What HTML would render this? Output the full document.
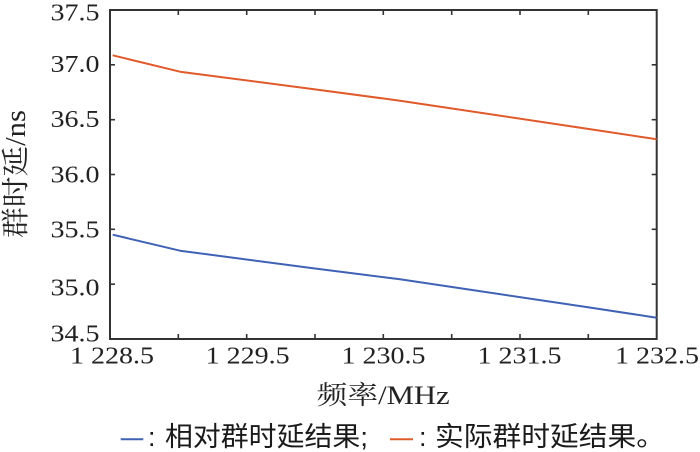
<!DOCTYPE html>
<html>
<head>
<meta charset="utf-8">
<style>
html,body{margin:0;padding:0;background:#fff;}
svg{display:block;}
.num{font-family:"Liberation Serif",serif;font-size:24px;fill:#222;}
.ser{font-family:"Liberation Serif","Noto Serif CJK SC",serif;fill:#222;}
.leg{font-family:"Liberation Sans","Noto Sans CJK SC",sans-serif;fill:#1a1a1a;font-size:27px;}
</style>
</head>
<body>
<svg width="700" height="452" viewBox="0 0 700 452" xmlns="http://www.w3.org/2000/svg">
  <rect width="700" height="452" fill="#fff"/>
  <!-- frame -->
  <rect x="110" y="10" width="546.7" height="329" fill="none" stroke="#333" stroke-width="2"/>
  <g stroke="#333" stroke-width="1.6">
    <line x1="178.3" y1="339" x2="178.3" y2="334"/>
    <line x1="246.7" y1="339" x2="246.7" y2="334"/>
    <line x1="315" y1="339" x2="315" y2="334"/>
    <line x1="383.3" y1="339" x2="383.3" y2="334"/>
    <line x1="451.7" y1="339" x2="451.7" y2="334"/>
    <line x1="520" y1="339" x2="520" y2="334"/>
    <line x1="588.3" y1="339" x2="588.3" y2="334"/>
    <line x1="178.3" y1="10" x2="178.3" y2="15"/>
    <line x1="246.7" y1="10" x2="246.7" y2="15"/>
    <line x1="315" y1="10" x2="315" y2="15"/>
    <line x1="383.3" y1="10" x2="383.3" y2="15"/>
    <line x1="451.7" y1="10" x2="451.7" y2="15"/>
    <line x1="520" y1="10" x2="520" y2="15"/>
    <line x1="588.3" y1="10" x2="588.3" y2="15"/>
    <line x1="110" y1="64.8" x2="115" y2="64.8"/>
    <line x1="110" y1="119.7" x2="115" y2="119.7"/>
    <line x1="110" y1="174.5" x2="115" y2="174.5"/>
    <line x1="110" y1="229.3" x2="115" y2="229.3"/>
    <line x1="110" y1="284.2" x2="115" y2="284.2"/>
    <line x1="656.7" y1="64.8" x2="651.7" y2="64.8"/>
    <line x1="656.7" y1="119.7" x2="651.7" y2="119.7"/>
    <line x1="656.7" y1="174.5" x2="651.7" y2="174.5"/>
    <line x1="656.7" y1="229.3" x2="651.7" y2="229.3"/>
    <line x1="656.7" y1="284.2" x2="651.7" y2="284.2"/>
  </g>
  <!-- series -->
  <polyline fill="none" stroke="#E05A2B" stroke-width="2" stroke-linejoin="round"
    points="112.7,55.3 180,71.7 315,89.4 400,100.7 452,108.5 588,128.9 656.7,139.3"/>
  <polyline fill="none" stroke="#3F62B5" stroke-width="2" stroke-linejoin="round"
    points="112.7,234.7 180,250.7 315,268.5 400,279.3 452,287 588,307.3 656.7,317.7"/>
  <!-- y tick labels -->
  <text class="num" x="99.5" y="20.5" text-anchor="end" textLength="49" lengthAdjust="spacingAndGlyphs">37.5</text>
  <text class="num" x="99.5" y="72" text-anchor="end" textLength="49" lengthAdjust="spacingAndGlyphs">37.0</text>
  <text class="num" x="99.5" y="127" text-anchor="end" textLength="49" lengthAdjust="spacingAndGlyphs">36.5</text>
  <text class="num" x="99.5" y="182.5" text-anchor="end" textLength="49" lengthAdjust="spacingAndGlyphs">36.0</text>
  <text class="num" x="99.5" y="237.5" text-anchor="end" textLength="49" lengthAdjust="spacingAndGlyphs">35.5</text>
  <text class="num" x="99.5" y="295.5" text-anchor="end" textLength="49" lengthAdjust="spacingAndGlyphs">35.0</text>
  <text class="num" x="99.5" y="341.5" text-anchor="end" textLength="49" lengthAdjust="spacingAndGlyphs">34.5</text>
  <!-- x tick labels -->
  <text class="num" x="70" y="363.5" textLength="84" lengthAdjust="spacingAndGlyphs">1 228.5</text>
  <text class="num" x="205.7" y="363.5" textLength="84" lengthAdjust="spacingAndGlyphs">1 229.5</text>
  <text class="num" x="341.5" y="363.5" textLength="84" lengthAdjust="spacingAndGlyphs">1 230.5</text>
  <text class="num" x="477.5" y="363.5" textLength="84" lengthAdjust="spacingAndGlyphs">1 231.5</text>
  <text class="num" x="615" y="363.5" textLength="84" lengthAdjust="spacingAndGlyphs">1 232.5</text>
  <!-- axis titles -->
  <text class="ser" x="316.7" y="404" font-size="26" textLength="133" lengthAdjust="spacingAndGlyphs">频率/MHz</text>
  <text class="ser" transform="translate(25,174) rotate(-90)" x="0" y="0" text-anchor="middle" font-size="28" textLength="128" lengthAdjust="spacingAndGlyphs">群时延/ns</text>
  <!-- legend -->
  <line x1="120.7" y1="439.3" x2="143.3" y2="439.3" stroke="#3F62B5" stroke-width="2"/>
  <text class="leg" x="148" y="446">:</text>
  <text class="leg" x="165" y="446" textLength="203" lengthAdjust="spacingAndGlyphs">相对群时延结果;</text>
  <line x1="390" y1="439.3" x2="413" y2="439.3" stroke="#E05A2B" stroke-width="2"/>
  <text class="leg" x="419" y="446">:</text>
  <text class="leg" x="435" y="446" textLength="230" lengthAdjust="spacingAndGlyphs">实际群时延结果。</text>
</svg>
</body>
</html>
